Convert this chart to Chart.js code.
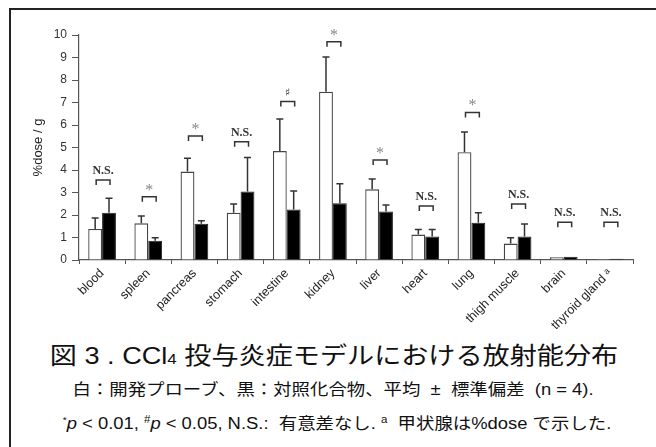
<!DOCTYPE html>
<html>
<head>
<meta charset="utf-8">
<script src="https://cdn.jsdelivr.net/npm/chart.js@4/dist/chart.umd.min.js"></script>
<style>
  html, body { margin: 0; padding: 0; background: #fff; }
  body { width: 656px; height: 447px; position: relative; overflow: hidden; font-family: "Liberation Sans", "Noto Sans CJK JP", sans-serif; color: #111; }
  #frame { position: absolute; left: 9px; top: 8px; width: 700px; height: 500px; border-top: 2px solid #222; border-left: 2px solid #222; }
  #chartBox { position: absolute; left: 0; top: 0; }
  .cap { position: absolute; left: 0; text-align: center; white-space: nowrap; transform-origin: center; }
  #cap1 { width: 668px; top: 341px; font-size: 24px; line-height: 30px; transform: scaleX(1.13); }
  #cap2 { width: 666px; top: 380px; font-size: 16px; line-height: 20px; transform: scaleX(1.15); }
  #cap3 { width: 674px; top: 410px; font-size: 16px; line-height: 20px; transform: scaleX(1.15); }
</style>
</head>
<body>
<div id="frame"></div>
<canvas id="chartBox" width="656" height="340"></canvas>
<div class="cap" id="cap1">図 3 . CCl<span style="font-size:15px">4</span> 投与炎症モデルにおける放射能分布</div>
<div class="cap" id="cap2">白：開発プローブ、黒：対照化合物、平均 &nbsp;±&nbsp; 標準偏差 &nbsp;(n = 4).</div>
<div class="cap" id="cap3"><sup style="font-size:9px">*</sup><i>p</i> &lt; 0.01, <sup style="font-size:10px">#</sup><i>p</i> &lt; 0.05, N.S.: &nbsp;有意差なし. <sup style="font-size:10px">a</sup> &nbsp;甲状腺は%dose で示した.</div>
<script>
// data (%dose / g, mean and SD, n = 4)
const organs = ["blood", "spleen", "pancreas", "stomach", "intestine", "kidney", "liver", "heart", "lung", "thigh muscle", "brain", "thyroid gland \u1d43"];
const probeMean = [1.38, 1.63, 3.93, 2.10, 4.84, 7.48, 3.14, 1.13, 4.79, 0.73, 0.12, 0.05];
const probeSD = [0.49, 0.33, 0.59, 0.39, 1.43, 1.54, 0.46, 0.23, 0.90, 0.26, 0, 0];
const controlMean = [2.10, 0.86, 1.61, 3.04, 2.25, 2.52, 2.16, 1.05, 1.66, 1.05, 0.15, 0.06];
const controlSD = [0.65, 0.13, 0.14, 1.52, 0.82, 0.87, 0.28, 0.31, 0.44, 0.55, 0, 0];
const sigMark = ["N.S.", "*", "*", "N.S.", "\u266f", "*", "*", "N.S.", "*", "N.S.", "N.S.", "N.S."];
const bracketLevel = [3.56, 2.81, 5.51, 5.26, 7.04, 9.7, 4.44, 2.4, 6.56, 2.49, 1.68, 1.68];
const yTicks = [0, 1, 2, 3, 4, 5, 6, 7, 8, 9, 10];

// error bars + significance brackets
const annotations = {
  id: "annotations",
  afterDatasetsDraw(chart) {
    const ctx = chart.ctx;
    const y = chart.scales.y;
    const sds = [probeSD, controlSD];
    ctx.save();
    ctx.strokeStyle = "#333";
    ctx.lineWidth = 1.5;
    chart.data.datasets.forEach((ds, d) => {
      chart.getDatasetMeta(d).data.forEach((bar, i) => {
        const sd = sds[d][i];
        if (!sd) return;
        const top = y.getPixelForValue(ds.data[i] + sd);
        ctx.beginPath();
        ctx.moveTo(bar.x, bar.y);
        ctx.lineTo(bar.x, top);
        ctx.moveTo(bar.x - 3.5, top);
        ctx.lineTo(bar.x + 3.5, top);
        ctx.stroke();
      });
    });

    const m0 = chart.getDatasetMeta(0);
    const m1 = chart.getDatasetMeta(1);
    ctx.textAlign = "center";
    ctx.textBaseline = "alphabetic";
    bracketLevel.forEach((v, i) => {
      const x1 = m0.data[i].x + 1;
      const x2 = m1.data[i].x + 1;
      const yy = y.getPixelForValue(v);
      ctx.strokeStyle = "#333";
      ctx.beginPath();
      ctx.moveTo(x1, yy + 5);
      ctx.lineTo(x1, yy);
      ctx.lineTo(x2, yy);
      ctx.lineTo(x2, yy + 5);
      ctx.stroke();
      const mark = sigMark[i];
      if (mark == "*") {
        ctx.fillStyle = "#888";
        ctx.font = "16px 'Liberation Serif'";
        ctx.fillText(mark, (x1 + x2) / 2, yy - 2);
      } else {
        ctx.fillStyle = "#333";
        ctx.font = mark == "N.S." ? "bold 12px 'Liberation Serif'" : "11px 'DejaVu Serif'";
        ctx.fillText(mark, (x1 + x2) / 2, yy - 6);
      }
    });
    ctx.restore();
  }
};

const data = {
  labels: organs,
  datasets: [
    {
      label: "開発プローブ",
      data: probeMean,
      backgroundColor: "#fff",
      borderColor: "#444",
      borderWidth: 1.3,
    },
    {
      label: "対照化合物",
      data: controlMean,
      backgroundColor: "#000",
      borderColor: "#222",
      borderWidth: 1,
    },
  ],
};

const config = {
  type: "bar",
  data,
  options: {
    responsive: false,
    animation: false,
    devicePixelRatio: 1,
    categoryPercentage: 0.6,
    barPercentage: 1.0,
    layout: { padding: { left: 31, right: 23, top: 35, bottom: 0 } },
    plugins: {
      legend: { display: false },
      tooltip: { enabled: false },
    },
    scales: {
      x: {
        grid: { display: true, offset: true, drawOnChartArea: false, tickLength: 4, color: "#555" },
        border: { color: "#555", width: 1.2 },
        ticks: {
          color: "#222",
          font: { family: "Liberation Sans", size: 12.5 },
          minRotation: 45,
          maxRotation: 45,
          autoSkip: false,
          padding: 2,
        },
        afterFit(scale) { scale.height = 80; },
      },
      y: {
        min: 0,
        max: 10,
        afterBuildTicks(scale) { scale.ticks = yTicks.map(v => ({ value: v })); },
        grid: { display: true, drawOnChartArea: false, tickLength: 7, color: "#555" },
        border: { color: "#555", width: 1.2 },
        ticks: {
          color: "#333",
          font: { family: "Liberation Sans", size: 12 },
          padding: 5,
        },
        title: {
          display: true,
          text: "%dose / g",
          color: "#222",
          font: { family: "Liberation Sans", size: 13 },
          padding: { top: 0, bottom: 2 },
        },
        afterFit(scale) { scale.width = 48; },
      },
    },
  },
  plugins: [annotations],
};

const myChart = new Chart(document.getElementById("chartBox"), config);
</script>
</body>
</html>
